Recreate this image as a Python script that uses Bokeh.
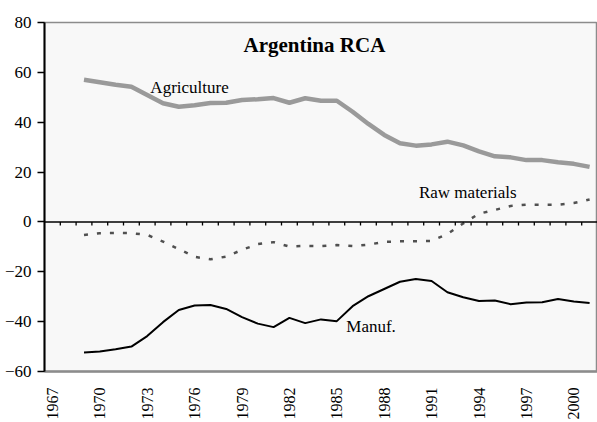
import numpy as np
from bokeh.plotting import figure
from bokeh.models import Span, FixedTicker, Range1d
from bokeh.core.properties import value
from bokeh.embed import file_html
from bokeh.resources import INLINE

years = list(range(1969, 2002))
agriculture = [57.0, 56.0, 55.0, 54.2, 50.9, 47.6, 46.2, 46.8, 47.7, 47.8, 48.9, 49.2,
               49.7, 47.8, 49.6, 48.6, 48.6, 44.2, 39.3, 34.9, 31.6, 30.6, 31.1, 32.2,
               30.7, 28.3, 26.3, 25.9, 24.8, 24.8, 23.9, 23.3, 22.1]
raw_materials = [-5.2, -4.5, -4.4, -4.5, -5.2, -7.9, -10.9, -14.0, -15.0, -13.9, -11.2, -8.9,
                 -8.1, -9.9, -9.6, -9.7, -9.3, -9.7, -9.1, -8.0, -7.8, -7.8, -7.6, -4.8,
                 -0.6, 3.3, 4.8, 6.4, 6.9, 6.9, 6.9, 7.6, 9.0]
manuf = [-52.4, -52.0, -51.1, -50.0, -45.8, -40.2, -35.3, -33.5, -33.3, -34.9, -38.2, -40.8,
         -42.2, -38.5, -40.6, -39.1, -39.8, -33.8, -29.8, -26.9, -24.0, -22.9, -23.7, -28.2,
         -30.2, -31.7, -31.5, -33.0, -32.3, -32.2, -30.9, -31.9, -32.5]

category_start, category_end = 1967, 2001
x_tick_years = list(range(1967, 2001, 3))
y_ticks = [-60, -40, -20, 0, 20, 40, 60, 80]

title_text = "Argentina  RCA"
series_labels = ["Agriculture", "Raw materials", "Manuf."]

SERIF = "'Liberation Serif', serif"

p = figure(width=597, height=422, output_backend="svg", toolbar_location=None,
           x_range=Range1d(category_start - 0.5, category_end + 0.5),
           y_range=Range1d(y_ticks[0], y_ticks[-1]),
           min_border_left=44, min_border_right=0, min_border_top=22, min_border_bottom=49)
p.background_fill_color = "#f8f8f8"
p.border_fill_color = "white"
p.outline_line_color = "#8c8c8c"
p.outline_line_width = 1.5
p.xgrid.visible = False
p.ygrid.visible = False

# y axis
p.yaxis.ticker = FixedTicker(ticks=y_ticks)
p.yaxis.axis_line_color = "black"
p.yaxis.axis_line_width = 2
p.yaxis.major_tick_line_color = "black"
p.yaxis.major_tick_line_width = 1.5
p.yaxis.major_tick_out = 7
p.yaxis.major_tick_in = 0
p.yaxis.minor_tick_line_color = None
p.yaxis.major_label_text_font = SERIF
p.yaxis.major_label_text_font_size = "17px"
p.yaxis.major_label_text_color = "black"
p.yaxis.major_label_standoff = 6

# x axis (labels at bottom)
p.xaxis.ticker = FixedTicker(ticks=x_tick_years)
p.xaxis.axis_line_color = "#8c8c8c"
p.xaxis.axis_line_width = 2.5
p.xaxis.major_tick_line_color = None
p.xaxis.minor_tick_line_color = None
p.xaxis.major_label_orientation = np.pi / 2
p.xaxis.major_label_text_font = SERIF
p.xaxis.major_label_text_font_size = "16px"
p.xaxis.major_label_text_color = "black"
p.xaxis.major_label_standoff = 10

# zero line with category-boundary ticks
p.add_layout(Span(location=0, dimension="width", line_color="black", line_width=1.5))
boundaries = [y + 0.5 for y in range(category_start, category_end)]
p.segment(x0=boundaries, y0=[0] * len(boundaries), x1=boundaries, y1=[-1.4] * len(boundaries),
          line_color="black", line_width=1.3)

# series
p.line(years, agriculture, line_color="#9a9a9a", line_width=4.5)
p.line(years, raw_materials, line_color="#505050", line_width=2.5, line_dash="4 9")
p.line(years, manuf, line_color="black", line_width=2)

# labels
p.text(x=[1983.75], y=[70.8], text=[title_text], text_font=value(SERIF),
       text_font_size="21px", text_font_style="bold", text_align="center",
       text_baseline="middle", text_color="black")
p.text(x=[1973.2, 1990.2, 1985.6], y=[54.1, 11.8, -42.0], text=series_labels,
       text_font=value(SERIF), text_font_size="17px", text_align="left",
       text_baseline="middle", text_color="black")

open("out.html", "w").write(file_html(p, INLINE))
